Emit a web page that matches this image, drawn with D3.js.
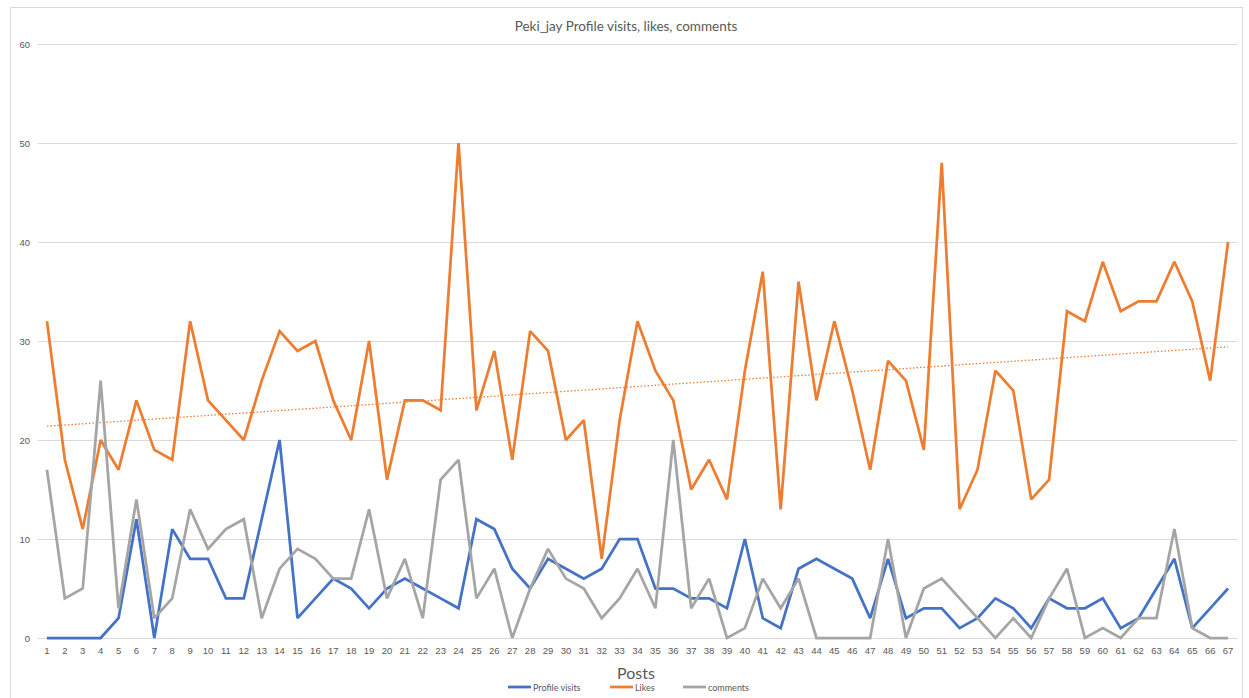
<!DOCTYPE html>
<html>
<head>
<meta charset="utf-8">
<script src="https://cdn.jsdelivr.net/npm/d3@7"></script>
<style>
  html, body { margin: 0; padding: 0; background: #fff; }
  svg { display: block; font-family: Lato, "Open Sans", "Liberation Sans", sans-serif; }
</style>
</head>
<body>
<svg id="chart" width="1249" height="698"></svg>
<script>
// Post numbers 1..67
const posts = d3.range(1, 68).map(String);

const profileVisits = [0,0,0,0,2,12,0,11,8,8,4,4,12,20,2,4,6,5,3,5,6,5,4,3,12,11,7,5,8,7,
  6,7,10,10,5,5,4,4,3,10,2,1,7,8,7,6,2,8,2,3,3,1,2,4,3,1,4,3,3,4,1,2,5,8,1,3,5];

const likes = [32,18,11,20,17,24,19,18,32,24,22,20,26,31,29,30,24,20,30,16,24,24,23,50,23,29,18,31,29,20,
  22,8,22,32,27,24,15,18,14,27,37,13,36,24,32,25,17,28,26,19,48,13,17,27,25,14,16,33,32,38,33,34,34,38,34,26,40];

const comments = [17,4,5,26,3,14,2,4,13,9,11,12,2,7,9,8,6,6,13,4,8,2,16,18,4,7,0,5,9,6,
  5,2,4,7,3,20,3,6,0,1,6,3,6,0,0,0,0,10,0,5,6,4,2,0,2,0,4,7,0,1,0,2,2,11,1,0,0];

const yTicks = [0, 10, 20, 30, 40, 50, 60];

const seriesNames = ["Profile visits", "Likes", "comments"];
const seriesColors = ["#4472C4", "#ED7D31", "#A5A5A5"];

const svg = d3.select("#chart");
const plot = { left: 38, right: 1237, top: 44, bottom: 638 };

// outer chart frame
svg.append("rect")
  .attr("x", 10.5).attr("y", 7.5)
  .attr("width", 1232).attr("height", 700)
  .attr("fill", "#fff").attr("stroke", "#d9d9d9");

const x = d3.scaleBand().domain(posts).range([plot.left, plot.right]);
const y = d3.scaleLinear().domain([0, 60]).range([plot.bottom, plot.top]);
const cx = d => x(d) + x.bandwidth() / 2;

// horizontal gridlines + y labels
const yAxis = d3.axisLeft(y).tickValues(yTicks).tickSize(-(plot.right - plot.left)).tickPadding(8);
const gy = svg.append("g").attr("transform", `translate(${plot.left},0)`).call(yAxis);
gy.select(".domain").remove();
gy.selectAll(".tick line").attr("stroke", "#d9d9d9").attr("stroke-width", 1);
gy.selectAll(".tick text").attr("fill", "#595959").attr("font-size", 9.5);

// x axis labels
const xAxis = d3.axisBottom(x).tickSize(0).tickPadding(9);
const gx = svg.append("g").attr("transform", `translate(0,${plot.bottom})`).call(xAxis);
gx.select(".domain").attr("stroke", "#d9d9d9");
gx.selectAll(".tick text").attr("fill", "#595959").attr("font-size", 9.5);

const line = d3.line().x((d, i) => cx(posts[i])).y(d => y(d));

// linear trendline of likes (least squares)
const xs = posts.map((p, i) => i + 1);
const n = xs.length;
const mx = d3.mean(xs), my = d3.mean(likes);
const slope = d3.sum(xs, (v, i) => (v - mx) * (likes[i] - my)) / d3.sum(xs, v => (v - mx) * (v - mx));
const intercept = my - slope * mx;
svg.append("line")
  .attr("x1", cx(posts[0])).attr("y1", y(intercept + slope * 1))
  .attr("x2", cx(posts[n - 1])).attr("y2", y(intercept + slope * n))
  .attr("stroke", "#ED7D31").attr("stroke-width", 1.3)
  .attr("stroke-dasharray", "1.5,2");

// series lines: visits, likes, comments (comments drawn on top)
[profileVisits, likes, comments].forEach((vals, k) => {
  svg.append("path")
    .datum(vals)
    .attr("d", line)
    .attr("fill", "none")
    .attr("stroke", seriesColors[k])
    .attr("stroke-width", 2.75)
    .attr("stroke-linejoin", "miter")
    .attr("stroke-miterlimit", 2);
});

// title
svg.append("text")
  .attr("x", 626).attr("y", 31)
  .attr("text-anchor", "middle")
  .attr("fill", "#595959").attr("font-size", 13.5)
  .text("Peki_jay  Profile visits, likes, comments");

// axis title
svg.append("text")
  .attr("x", 636).attr("y", 679)
  .attr("text-anchor", "middle")
  .attr("fill", "#595959").attr("font-size", 16)
  .text("Posts");

// legend
const legendX = [508, 610, 683];
seriesNames.forEach((name, k) => {
  const g = svg.append("g").attr("transform", `translate(${legendX[k]},687)`);
  g.append("line").attr("x1", 0).attr("x2", 23).attr("y1", 0).attr("y2", 0)
    .attr("stroke", seriesColors[k]).attr("stroke-width", 2.75);
  g.append("text").attr("x", 25).attr("y", 3.5)
    .attr("fill", "#595959").attr("font-size", 9)
    .text(name);
});
</script>
</body>
</html>
